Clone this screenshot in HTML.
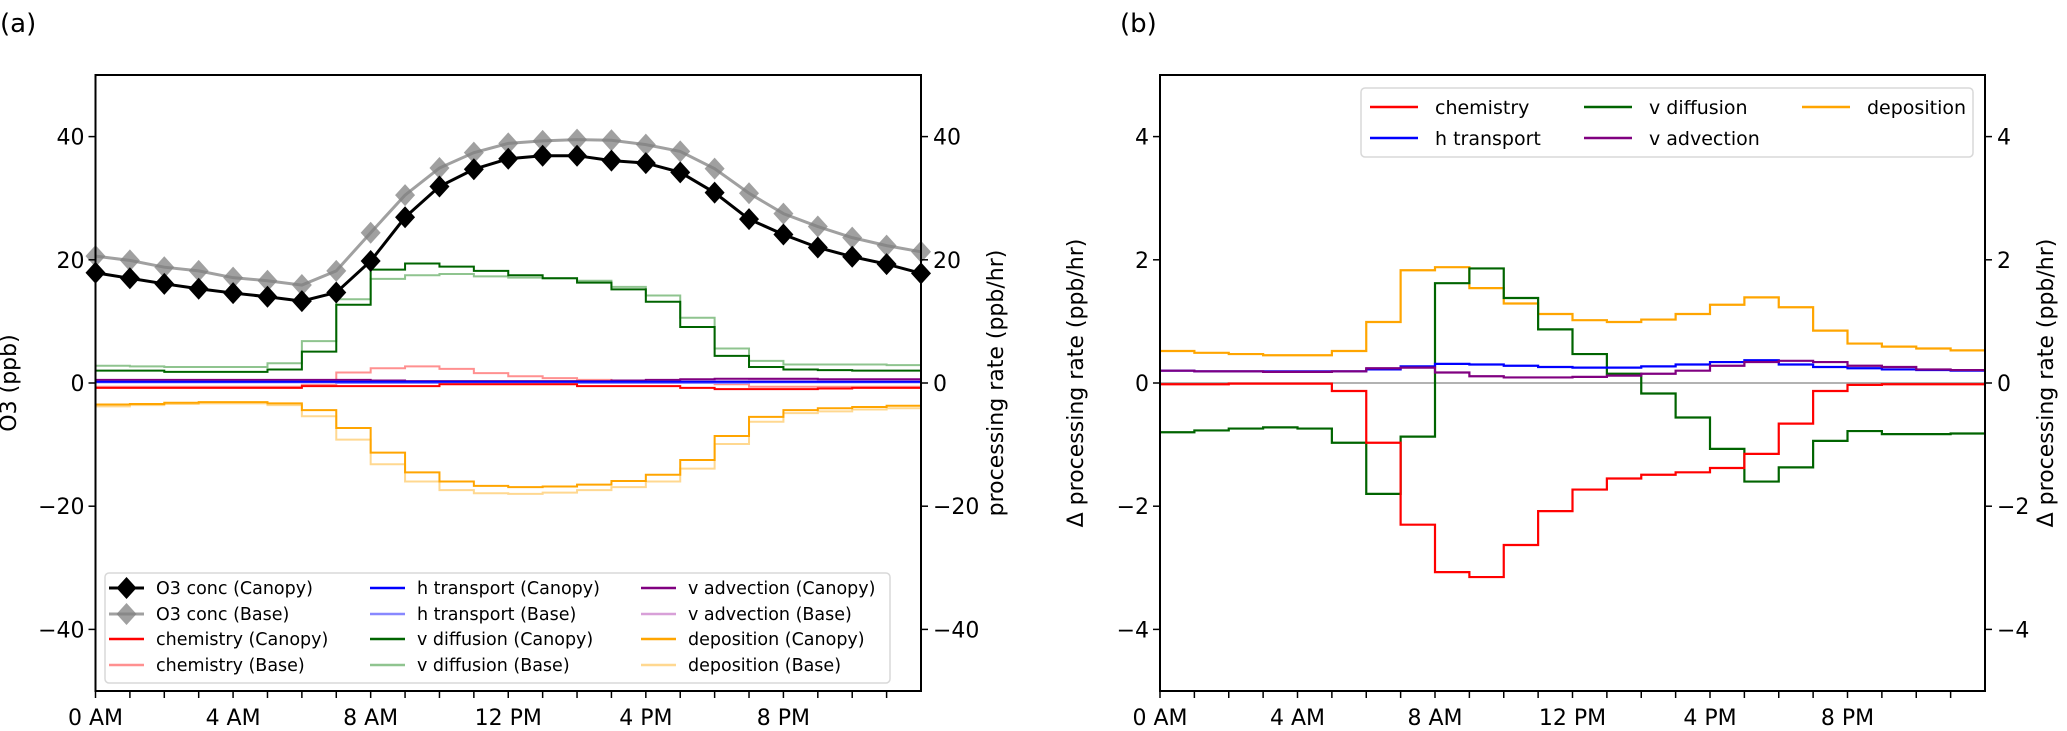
<!DOCTYPE html>
<html><head><meta charset="utf-8"><style>
html,body{margin:0;padding:0;background:#fff;}
svg text{font-family:"DejaVu Sans","Liberation Sans",sans-serif;fill:#000;}
</style></head><body>
<svg id="chart" width="2067" height="726" viewBox="0 0 2067 726" xmlns="http://www.w3.org/2000/svg"></svg>
<script>
// ---- data: panel a ----
const hours = [0,1,2,3,4,5,6,7,8,9,10,11,12,13,14,15,16,17,18,19,20,21,22,23];
const xTickLabels = ["0 AM","4 AM","8 AM","12 PM","4 PM","8 PM"];
const o3Canopy = [17.9,17.0,16.1,15.3,14.6,14.0,13.3,14.7,19.8,26.9,31.9,34.7,36.4,36.9,36.9,36.1,35.7,34.2,30.9,26.6,24.1,22.0,20.5,19.3,17.8];
const o3Base = [20.6,19.9,18.8,18.2,17.1,16.6,15.9,18.2,24.4,30.5,34.9,37.4,38.9,39.3,39.5,39.4,38.7,37.6,34.8,30.8,27.5,25.4,23.6,22.3,21.3];
const chemCanopyA = [-0.8,-0.8,-0.8,-0.8,-0.8,-0.8,-0.5,-0.5,-0.5,-0.5,-0.2,-0.2,-0.2,-0.2,-0.5,-0.5,-0.5,-0.8,-1.0,-1.0,-1.0,-0.9,-0.8,-0.8];
const chemBaseA = [-0.6,-0.6,-0.6,-0.6,-0.6,-0.6,-0.3,1.7,2.4,2.7,2.3,1.6,1.1,0.8,0.5,0.3,0.1,0.0,-0.2,-0.6,-0.6,-0.6,-0.6,-0.6];
const htCanopyA = [0.2,0.2,0.2,0.2,0.2,0.2,0.2,0.2,0.2,0.2,0.2,0.2,0.2,0.2,0.2,0.2,0.2,0.2,0.2,0.2,0.2,0.2,0.2,0.2];
const htBaseA = [0.1,0.1,0.1,0.1,0.1,0.1,0.1,0.0,0.0,0.0,0.0,0.0,0.0,0.0,0.0,0.0,0.0,0.0,0.0,0.1,0.1,0.1,0.1,0.1];
const vaCanopyA = [0.5,0.5,0.5,0.5,0.5,0.5,0.5,0.5,0.4,0.3,0.3,0.3,0.3,0.3,0.3,0.4,0.5,0.6,0.7,0.7,0.7,0.6,0.6,0.6];
const vaBaseA = [0.4,0.4,0.4,0.4,0.4,0.4,0.3,0.3,0.3,0.2,0.2,0.2,0.2,0.2,0.2,0.2,0.2,0.3,0.3,0.4,0.4,0.4,0.4,0.4];
const vdCanopyA = [2.0,2.0,1.8,1.8,1.8,2.2,5.1,12.7,18.4,19.4,18.9,18.2,17.5,17.0,16.3,15.2,13.2,9.1,4.4,2.6,2.2,2.1,2.0,2.0];
const vdBaseA = [2.8,2.7,2.6,2.6,2.6,3.2,6.8,13.6,16.9,17.5,17.7,17.3,17.1,17.0,16.6,15.6,14.2,10.6,5.6,3.6,3.0,3.0,3.0,2.9];
const depCanopyA = [-3.5,-3.4,-3.2,-3.1,-3.1,-3.3,-4.4,-7.3,-11.3,-14.5,-16.0,-16.7,-16.9,-16.8,-16.5,-15.9,-14.9,-12.5,-8.6,-5.5,-4.4,-4.1,-3.9,-3.7];
const depBaseA = [-3.8,-3.6,-3.4,-3.3,-3.3,-3.6,-5.4,-9.2,-13.2,-16.0,-17.4,-17.9,-18.0,-17.8,-17.4,-16.9,-16.0,-13.9,-9.9,-6.3,-4.9,-4.6,-4.3,-4.1];
const yTicksA = [-40,-20,0,20,40];
// ---- data: panel b ----
const chemDiff = [-0.02,-0.02,-0.01,-0.01,-0.01,-0.13,-0.97,-2.3,-3.07,-3.15,-2.63,-2.08,-1.73,-1.55,-1.49,-1.45,-1.38,-1.15,-0.66,-0.13,-0.03,-0.02,-0.02,-0.02];
const htDiff = [0.2,0.19,0.19,0.19,0.19,0.19,0.22,0.27,0.31,0.3,0.28,0.26,0.25,0.25,0.27,0.3,0.34,0.37,0.3,0.26,0.24,0.22,0.21,0.2];
const vdDiff = [-0.8,-0.77,-0.74,-0.72,-0.74,-0.97,-1.8,-0.87,1.62,1.86,1.38,0.87,0.47,0.15,-0.17,-0.56,-1.07,-1.6,-1.37,-0.94,-0.78,-0.83,-0.83,-0.82];
const vaDiff = [0.2,0.19,0.19,0.18,0.18,0.19,0.24,0.25,0.17,0.11,0.09,0.09,0.1,0.12,0.15,0.2,0.28,0.34,0.36,0.34,0.28,0.26,0.22,0.21];
const depDiff = [0.52,0.49,0.47,0.45,0.45,0.52,0.99,1.83,1.88,1.54,1.29,1.12,1.02,0.99,1.03,1.12,1.27,1.39,1.23,0.85,0.64,0.59,0.56,0.53];
const yTicksB = [-4,-2,0,2,4];

const NS="http://www.w3.org/2000/svg";
const svg=document.getElementById('chart');
function el(tag,attrs,parent){const e=document.createElementNS(NS,tag);for(const k in attrs)e.setAttribute(k,attrs[k]);(parent||svg).appendChild(e);return e;}

const TOP=75,BOT=691;
function mk(x0,x1,ymax){
  return {x:h=>x0+(x1-x0)*h/24, y:v=>(TOP+BOT)/2-(v/ymax)*(BOT-TOP)/2, x0,x1};
}
const A=mk(95.5,921,50), B=mk(1160,1985,5);

function stepPath(ax,vals){
  let d='';
  vals.forEach((v,i)=>{const y=ax.y(v);d+=(i?'L':'M')+ax.x(i)+','+y+'L'+ax.x(i+1)+','+y;});
  return d;
}
function drawStep(ax,vals,color,w,name,op){
  const p=el('path',{d:stepPath(ax,vals),fill:'none',stroke:color,'stroke-width':w,'stroke-opacity':op||1});
  
  
}
function axes(ax,ticks,ymax,prefix,leftLabel,rightLabel,leftLX,rightLX){
  const g=el('g',{});
  
  
  el('rect',{x:ax.x0,y:TOP,width:ax.x1-ax.x0,height:BOT-TOP,fill:'none',stroke:'#000','stroke-width':2},g);
  ticks.forEach(t=>{
    const y=ax.y(t);
    el('line',{x1:ax.x0-7,x2:ax.x0,y1:y,y2:y,stroke:'#000','stroke-width':1.5},g);
    el('line',{x1:ax.x1,x2:ax.x1+7,y1:y,y2:y,stroke:'#000','stroke-width':1.5},g);
    const lab=(t<0?'\u2212'+(-t):String(t));
    const a=el('text',{x:ax.x0-11,y:y+8,'text-anchor':'end','font-size':22},g);a.textContent=lab;
    
    
    const b=el('text',{x:ax.x1+12,y:y+8,'text-anchor':'start','font-size':22},g);b.textContent=lab;
    
    
  });
  for(let h=0;h<24;h++){
    const x=ax.x(h);
    el('line',{x1:x,x2:x,y1:BOT,y2:BOT+7,stroke:'#000','stroke-width':1.5},g);
    if(h%4===0){const t=el('text',{x:x,y:725,'text-anchor':'middle','font-size':22},g);t.textContent=xTickLabels[h/4];
      
      }
  }
  const ml=(TOP+BOT)/2;
  const l=el('text',{x:leftLX,y:ml,'text-anchor':'middle','font-size':22,transform:`rotate(-90 ${leftLX} ${ml})`},g);l.textContent=leftLabel;
  
  
  const r=el('text',{x:rightLX,y:ml,'text-anchor':'middle','font-size':22,transform:`rotate(-90 ${rightLX} ${ml})`},g);r.textContent=rightLabel;
  
  
}

// panel labels
let pl=el('text',{x:0,y:32,'font-size':26});pl.textContent='(a)';


pl=el('text',{x:1120,y:32,'font-size':26});pl.textContent='(b)';



// ---- panel a series ----
drawStep(A,depBaseA,'#ffd890',2,'deposition-base-line');
drawStep(A,vdBaseA,'#8fc48f',2,'v-diffusion-base-line');
drawStep(A,chemBaseA,'#ff9090',2,'chemistry-base-line');
drawStep(A,vaBaseA,'#d8a0d8',2,'v-advection-base-line');
drawStep(A,htBaseA,'#8888ff',2,'h-transport-base-line');
drawStep(A,depCanopyA,'#ffa500',2,'deposition-canopy-line');
drawStep(A,vdCanopyA,'#006400',2,'v-diffusion-canopy-line');
drawStep(A,chemCanopyA,'#ff0000',2,'chemistry-canopy-line');
drawStep(A,vaCanopyA,'#800080',2,'v-advection-canopy-line');
drawStep(A,htCanopyA,'#0000ff',2,'h-transport-canopy-line');

function drawO3(vals,color,op,name){
  const hrs=vals.map((v,i)=>i);
  const d=vals.map((v,i)=>(i?'L':'M')+A.x(hrs[i])+','+A.y(v)).join('');
  const p=el('path',{d:d,fill:'none',stroke:color,'stroke-width':3,'stroke-opacity':op});
  
  
  vals.forEach((v,i)=>{
    const cx=A.x(hrs[i]),cy=A.y(v);
    const m=el('path',{d:`M${cx},${cy-11}L${cx+10},${cy}L${cx},${cy+11}L${cx-10},${cy}Z`,fill:color,'fill-opacity':op});
    
    
  });
}
const clipA=el('clipPath',{id:'clipA'});el('rect',{x:A.x0,y:TOP,width:A.x1-A.x0,height:BOT-TOP},clipA);
const gO3=el('g',{'clip-path':'url(#clipA)'});
svg.appendChild(gO3);
(function(){const save=svg;})();
drawO3(o3Base,'#808080',0.75,'o3-base');
drawO3(o3Canopy,'#000000',1,'o3-canopy');

axes(A,yTicksA,50,'panel-a','O3 (ppb)','processing rate (ppb/hr)',16,1003);

// legend a
const legA=el('g',{});


el('rect',{x:105,y:573,width:785,height:110,rx:4,fill:'#fff','fill-opacity':0.85,stroke:'#d8d8d8','stroke-width':1.5},legA);
const legAItems=[
 ['O3 conc (Canopy)','#000',1,1,0,0],['O3 conc (Base)','#808080',0.75,1,0,1],['chemistry (Canopy)','#ff0000',1,0,0,2],['chemistry (Base)','#ff9090',1,0,0,3],
 ['h transport (Canopy)','#0000ff',1,0,1,0],['h transport (Base)','#8888ff',1,0,1,1],['v diffusion (Canopy)','#006400',1,0,1,2],['v diffusion (Base)','#8fc48f',1,0,1,3],
 ['v advection (Canopy)','#800080',1,0,2,0],['v advection (Base)','#d8a0d8',1,0,2,1],['deposition (Canopy)','#ffa500',1,0,2,2],['deposition (Base)','#ffd890',1,0,2,3]];
const colX=[109,370,641],rowY=[588,614,639,665];
legAItems.forEach(it=>{
  const [lab,c,op,mark,ci,ri]=it;const x=colX[ci],y=rowY[ri];
  const ln=el('line',{x1:x,x2:x+35,y1:y,y2:y,stroke:c,'stroke-width':mark?3:2.5,'stroke-opacity':op},legA);
  
  
  if(mark){const cx=x+17.5;el('path',{d:`M${cx},${y-11}L${cx+10},${y}L${cx},${y+11}L${cx-10},${y}Z`,fill:c,'fill-opacity':op},legA);}
  const t=el('text',{x:x+47,y:y+6,'font-size':17.5},legA);t.textContent=lab;
  
  
});

// ---- panel b ----
const zl=el('line',{x1:B.x0,x2:B.x1,y1:B.y(0),y2:B.y(0),stroke:'#999','stroke-width':1.5});


drawStep(B,depDiff,'#ffa500',2.2,'deposition-diff-line');
drawStep(B,vdDiff,'#006400',2.2,'v-diffusion-diff-line');
drawStep(B,chemDiff,'#ff0000',2.2,'chemistry-diff-line');
drawStep(B,htDiff,'#0000ff',2.2,'h-transport-diff-line');
drawStep(B,vaDiff,'#800080',2.2,'v-advection-diff-line');
axes(B,yTicksB,5,'panel-b','\u0394 processing rate (ppb/hr)','\u0394 processing rate (ppb/hr)',1083,2053);

const legB=el('g',{});


el('rect',{x:1361,y:88,width:612,height:69,rx:4,fill:'#fff','fill-opacity':0.85,stroke:'#d8d8d8','stroke-width':1.5},legB);
const legBItems=[['chemistry','#ff0000',0,0],['h transport','#0000ff',0,1],['v diffusion','#006400',1,0],['v advection','#800080',1,1],['deposition','#ffa500',2,0]];
const bColX=[1370,1584,1802],bRowY=[107,138];
legBItems.forEach(it=>{
  const [lab,c,ci,ri]=it;const x=bColX[ci],y=bRowY[ri];
  const ln=el('line',{x1:x,x2:x+48,y1:y,y2:y,stroke:c,'stroke-width':2.5},legB);
  
  
  const t=el('text',{x:x+65,y:y+7,'font-size':19},legB);t.textContent=lab;
  
  
});
</script>
</body></html>
